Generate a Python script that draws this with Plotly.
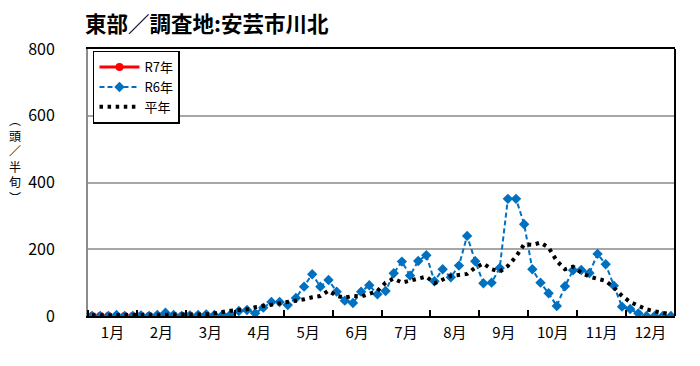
import plotly.graph_objects as go

# ---- data (half-month "半旬" periods, 6 per month, 72 per year) ----
months = ["1月", "2月", "3月", "4月", "5月", "6月", "7月", "8月", "9月", "10月", "11月", "12月"]

r7 = [0, 0, 0, 0, 0, 0, 0, 0, 0, 0, 0, 0, 0, 0, 0]

r6 = [0, 0, 0, 3, 0, 0, 2, 0, 3, 10, 3, 0, 2, 3, 5, 3, 3, 5,
      15, 18, 8, 25, 42, 42, 33, 54, 88, 125, 88, 108, 73, 46, 39, 73, 92, 65,
      75, 128, 163, 121, 165, 182, 104, 140, 116, 151, 240, 164, 98, 100, 144, 351, 351, 275,
      140, 100, 68, 30, 89, 137, 138, 129, 186, 155, 91, 28, 21, 8, 0, 0, 0, 0]

heinen = [2, 2, 2, 2, 2, 2, 2, 2, 3, 3, 3, 3, 3, 4, 5, 8,
          13, 16, 18, 20, 26, 30, 33, 36, 40, 43, 50, 56, 60,
          76, 60, 55, 60, 58, 68, 75, 100, 112, 100, 105, 113, 118, 98, 110, 120,
          123, 126, 145, 157, 140, 133, 150, 178, 215, 213, 220,
          205, 165, 140, 148, 130, 118, 112, 105, 85, 60, 42, 30, 20, 14, 9, 5]

y_ticks = [0, 200, 400, 600, 800]

x_r7 = list(range(len(r7)))
x_r6 = list(range(len(r6)))
x_hn = list(range(len(heinen)))
month_centers = [2.5 + 6 * k for k in range(12)]

FONT = "Noto Sans CJK JP"

fig = go.Figure()
fig.add_trace(go.Scatter(
    x=x_r7, y=r7, name="R7年", mode="lines+markers",
    line=dict(color="#FF0000", width=3),
    marker=dict(symbol="circle", size=8, color="#FF0000"),
))
fig.add_trace(go.Scatter(
    x=x_r6, y=r6, name="R6年", mode="lines+markers",
    line=dict(color="#0070C0", width=2, dash="5px,3px"),
    marker=dict(symbol="diamond", size=8, color="#0070C0"),
))
fig.add_trace(go.Scatter(
    x=x_hn, y=heinen, name="平年", mode="lines",
    line=dict(color="#000000", width=4, dash="3.5px,4.6px"),
))

fig.update_layout(
    width=692, height=358,
    margin=dict(l=80, r=25, t=41, b=50),
    paper_bgcolor="white", plot_bgcolor="white",
    font=dict(family=FONT, color="black"),
    showlegend=True,
    legend=dict(
        x=0.0085, y=0.994, xanchor="left", yanchor="top",
        bgcolor="white", bordercolor="black", borderwidth=1.5,
        font=dict(size=13, family=FONT),
        tracegroupgap=0, itemwidth=40,
    ),
    annotations=[
        dict(text="<b>東部／調査地:安芸市川北</b>", xref="paper", yref="paper",
             x=-0.0085, y=1.101, xanchor="left", yanchor="middle",
             showarrow=False, font=dict(size=21.5, family=FONT, color="black")),
        dict(text="︵<br>頭<br>／<br>半<br>旬<br>︶", xref="paper", yref="paper",
             x=-0.124, y=0.59, xanchor="center", yanchor="middle",
             showarrow=False, font=dict(size=12, family=FONT, color="black")),
    ],
    shapes=[
        dict(type="line", xref="paper", yref="paper", x0=1, x1=1, y0=0, y1=1,
             line=dict(color="black", width=2)),
    ],
)

fig.update_xaxes(
    range=[-0.5, 71.5],
    tickmode="array", tickvals=month_centers, ticktext=months,
    ticks="", tickfont=dict(size=15, family=FONT),
    showgrid=False, zeroline=False,
    showline=True, linecolor="black", linewidth=2, mirror=True,
    minor=dict(tickmode="linear", tick0=-0.5, dtick=6, ticks="inside",
               ticklen=6, tickwidth=2, tickcolor="black", showgrid=False),
    ticklabelstandoff=2,
)
fig.update_yaxes(
    range=[0, 800], tickmode="array", tickvals=y_ticks,
    ticks="", tickfont=dict(size=16, family=FONT),
    showgrid=True, gridcolor="#A6A6A6", gridwidth=1.5,
    zeroline=False,
    showline=True, linecolor="#8C8C8C", linewidth=2,
    ticklabelstandoff=28,
)

fig.write_html("out.html")
